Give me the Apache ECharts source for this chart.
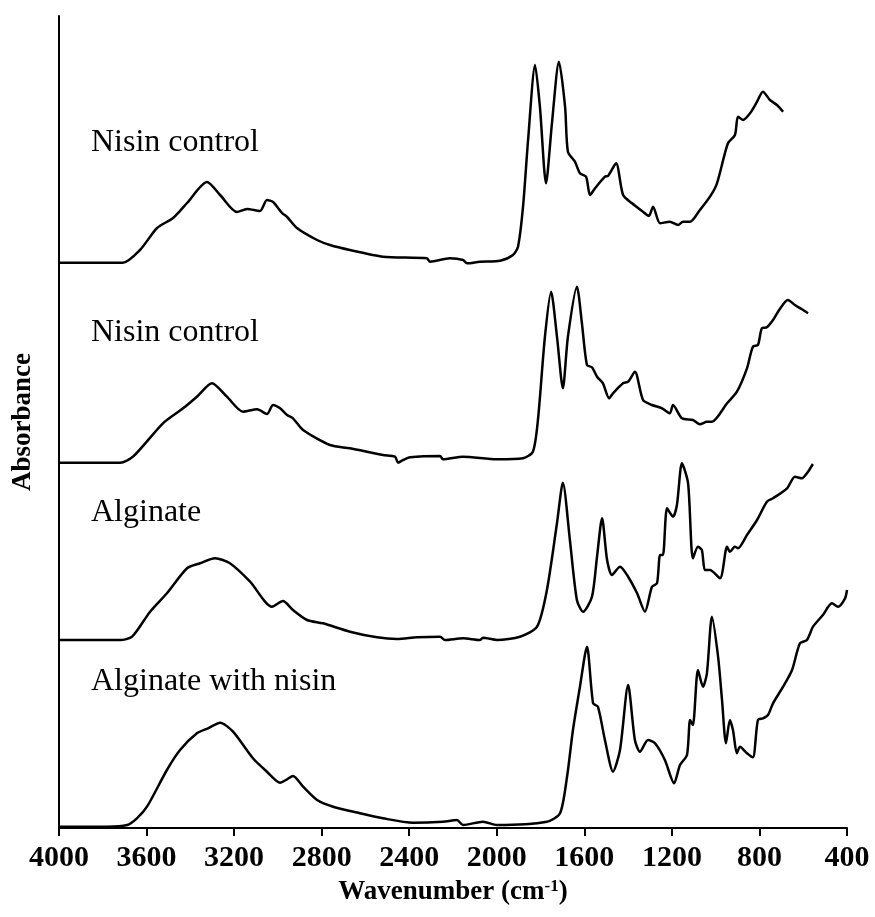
<!DOCTYPE html>
<html>
<head>
<meta charset="utf-8">
<script src="https://cdn.jsdelivr.net/npm/echarts@6/dist/echarts.min.js"></script>
<style>
html,body{margin:0;padding:0;background:#fff;}
#chart{width:875px;height:917px;}
</style>
</head>
<body>
<div id="chart"></div>
<script>
// Tick labels of the wavenumber axis
const xTicks = [4000, 3600, 3200, 2800, 2400, 2000, 1600, 1200, 800, 400];
// Sample names (top to bottom)
const sampleNames = ['Nisin control', 'Nisin control', 'Alginate', 'Alginate with nisin'];

// Spectra: [wavenumber (cm-1), absorbance (arbitrary, vertically offset)]
const nisinControlA = [
  [4000,565.3],[3708,565.3],[3630,578],[3552,600],[3479,610],[3415,625],[3324,646],[3264,633],
  [3187,616],[3141,619],[3082,617],[3050,628],[3022,626],[2981,615],[2958,611],[2913,600],
  [2821,588],[2762,583],[2671,578],[2520,571.3],[2319,569.7],[2305,566.3],[2214,569.7],[2154,568],
  [2136,564.7],[2077,566.3],[1985,567.3],[1926,573],[1903,581.3],[1880,621.3],[1857,688],[1825,763],
  [1803,721.3],[1775,644.7],[1748,704.7],[1716,766.3],[1688,721.3],[1675,676.3],[1643,666.3],[1620,654.7],
  [1592,651.3],[1574,633],[1551,639.7],[1506,651.3],[1492,652],[1455,664.7],[1423,633],[1382,624.7],
  [1332,616.3],[1305,612],[1286,621.3],[1254,604.7],[1209,606.3],[1172,603],[1149,606.3],[1117,606.3],
  [1072,618],[1026,631.3],[994,644.7],[944,684.7],[912,693],[898,711.3],[875,708],[843,714.7],
  [811,726.3],[784,736.3],[752,728],[720,723],[692,716.3]
];
const nisinControlB = [
  [4000,365.3],[3721,365.3],[3662,371.3],[3525,404.7],[3433,419.7],[3370,431.3],[3301,444.7],[3233,431.3],
  [3159,416.3],[3095,418.7],[3050,414],[3022,423],[2990,419.7],[2958,413],[2931,409.7],[2885,398],
  [2762,383],[2671,379.7],[2520,373],[2465,371.3],[2451,365.3],[2428,368],[2396,370.7],[2259,372],
  [2246,368.7],[2154,371.3],[1999,368.7],[1880,369.7],[1835,376.3],[1812,408],[1780,491.3],[1752,536.3],
  [1725,491.3],[1698,439.7],[1675,491.3],[1634,541.3],[1611,504.7],[1588,463],[1565,460.7],[1542,451.3],
  [1515,444.7],[1487,429.7],[1469,434.7],[1423,444.7],[1400,446.3],[1369,456.3],[1332,428],[1291,423],
  [1245,419.7],[1209,414.7],[1195,423],[1154,409.7],[1104,408],[1072,403.7],[1040,406.3],[1017,406.3],
  [948,424.7],[903,436.3],[857,459.7],[830,481.3],[807,483],[789,499.7],[766,500.7],[738,508],
  [715,516.3],[670,528],[638,523],[606,518.7],[578,514.7]
];
const alginate = [
  [4000,188],[3721,188],[3666,191.3],[3584,216.3],[3507,234.7],[3415,259.7],[3356,264.7],[3287,269.7],
  [3219,264.7],[3127,246.3],[3027,221.3],[2977,227],[2931,218],[2867,208],[2794,204.7],[2671,196.3],
  [2547,190.7],[2456,189],[2365,190.7],[2259,191.3],[2237,188],[2154,189.7],[2077,188],[2063,190.3],
  [1999,188],[1894,191.3],[1816,201.3],[1771,238],[1725,304.7],[1698,345.3],[1666,288],[1634,228],
  [1606,216.3],[1565,231.3],[1542,271.3],[1519,309.7],[1496,268],[1474,253],[1437,261.3],[1400,251.3],
  [1359,234.7],[1323,216.3],[1291,241.3],[1268,244.7],[1254,273],[1241,273],[1222,319.7],[1195,311.3],
  [1177,323],[1154,364.7],[1126,344.7],[1104,269.7],[1081,281.3],[1063,278],[1049,258],[1026,258],
  [980,249.7],[948,281.3],[935,276.3],[912,281.3],[898,279.7],[857,293],[811,308],[766,326.3],
  [738,329.7],[674,339.7],[638,351.3],[606,349.7],[578,356.3],[556,364]
];
const alginateNisin = [
  [4000,1.3],[3781,1.3],[3689,3],[3644,9.7],[3598,21.3],[3507,58],[3447,78],[3370,94.7],
  [3319,99.7],[3264,105.3],[3205,96.3],[3114,69.7],[3050,56.3],[2990,45.3],[2958,48.7],[2931,52],
  [2885,41.3],[2821,28],[2748,21.3],[2625,14.7],[2520,9.7],[2383,5.3],[2246,6.3],[2182,8],
  [2154,3],[2063,6.3],[1999,3],[1771,6.3],[1711,14.7],[1679,51.3],[1652,98],[1620,141.3],
  [1588,181.3],[1560,124.7],[1538,121.3],[1506,88],[1469,56.3],[1437,78],[1400,143],[1369,88],
  [1346,76.3],[1309,88],[1277,84.7],[1232,68],[1190,44.7],[1163,63],[1131,73],[1117,108],
  [1104,103],[1081,158],[1058,141.3],[1040,154.7],[1017,211.3],[989,171.3],[971,128],[953,84.7],
  [935,108],[921,98],[903,74.7],[889,81.3],[857,74.7],[830,70.7],[807,108],[784,109.7],
  [761,113],[738,124.7],[692,141.3],[651,158],[615,184.7],[583,188],[555,201.3],[510,213],
  [469,224.7],[441,221.3],[409,229.7],[400,238]
];

const spectra = [nisinControlA, nisinControlB, alginate, alginateNisin];
const labelY = [143, 333, 513, 682];
const serif = '"Liberation Serif", "Times New Roman", serif';

const chart = echarts.init(document.getElementById('chart'), null, {renderer: 'canvas'});
chart.setOption({
  animation: false,
  backgroundColor: '#fff',
  grid: {left: 59, right: 28, top: 16, bottom: 89, containLabel: false, outerBoundsMode: 'none'},
  xAxis: {
    type: 'value', inverse: true, min: 400, max: 4000, interval: 400,
    axisLine: {show: true, onZero: false, lineStyle: {color: '#000', width: 2}},
    axisTick: {show: true, inside: false, length: 8, lineStyle: {color: '#000', width: 2}},
    splitLine: {show: false},
    axisLabel: {color: '#000', fontFamily: serif, fontWeight: 'bold', fontSize: 30, margin: 15,
      formatter: v => xTicks.includes(v) ? String(v) : ''},
    name: 'Wavenumber (cm{sup|-1})',
    nameLocation: 'middle', nameGap: 50,
    nameTextStyle: {color: '#000', fontFamily: serif, fontWeight: 'bold', fontSize: 27,
      rich: {sup: {fontFamily: serif, fontWeight: 'bold', fontSize: 17, verticalAlign: 'top', padding: [0,0,12,0]}}}
  },
  yAxis: {
    type: 'value', min: 0, max: 812,
    axisLine: {show: true, onZero: false, lineStyle: {color: '#000', width: 2}},
    axisTick: {show: false}, axisLabel: {show: false}, splitLine: {show: false},
    name: 'Absorbance', nameLocation: 'middle', nameGap: 22, nameRotate: 90,
    nameTextStyle: {color: '#000', fontFamily: serif, fontWeight: 'bold', fontSize: 27}
  },
  series: spectra.map((d, i) => ({
    type: 'line', name: sampleNames[i] + ' ' + i, data: d, showSymbol: false, smooth: 0.25,
    lineStyle: {color: '#000', width: 2.5}, silent: true
  })),
  graphic: sampleNames.map((n, i) => ({
    type: 'text', left: 91, top: labelY[i] - 16,
    style: {text: n, fontFamily: serif, fontSize: 32, fill: '#000'}
  }))
});
</script>
</body>
</html>
